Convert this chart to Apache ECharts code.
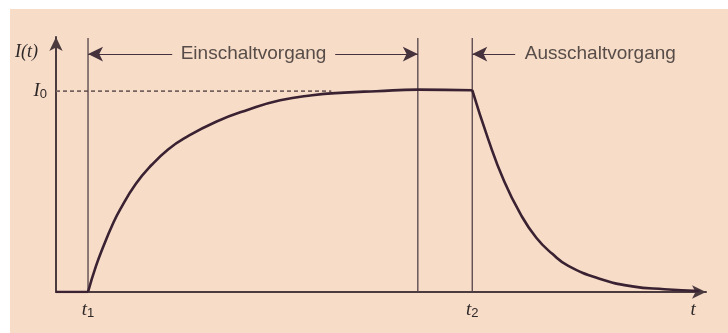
<!DOCTYPE html>
<html>
<head>
<meta charset="utf-8">
<script src="https://cdn.jsdelivr.net/npm/echarts@6/dist/echarts.min.js"></script>
<style>
  html, body { margin: 0; padding: 0; background: #ffffff; }
  #chart { width: 728px; height: 333px; }
</style>
</head>
<body>
<div id="chart"></div>
<script>
// Time in units of the switch-on instant t1 = 1; current in units of I0.
const offT = [0, 1];
const offI = [0, 0];
const riseT = [1, 1.25, 1.5, 1.75, 2, 2.5, 3, 3.5, 4, 5, 6, 7, 8, 9, 10, 11.3, 13];
const riseI = [0, 0.13, 0.235, 0.33, 0.41, 0.54, 0.635, 0.71, 0.765, 0.848, 0.908, 0.955, 0.98, 0.993, 1.0, 1.008, 1.005];
const fallT = [13, 13.5, 14, 14.5, 15, 15.5, 16, 17, 18, 19, 20.1];
const fallI = [1.005, 0.76, 0.55, 0.39, 0.27, 0.19, 0.13, 0.065, 0.028, 0.014, 0.005];

// vertical markers: t1, end of switch-on transient, t2
const markerT = [1, 11.3, 13];
const markerTop = 1.265;

// I0 reference level and where its dashed guide ends
const levelI0 = 1;
const dashEndT = 8.6;

// axis labels
const xTickValues = [1, 13, 19.9];
const xTickLabels = ['{t|t}{s|1}', '{t|t}{s|2}', '{t|t}'];
const yTickValues = [1, 1.195];
const yTickLabels = ['{i|I}{s|0}', '{f|I(t)}'];

// phase annotations
const phaseNames = ['Einschaltvorgang', 'Ausschaltvorgang'];
const phaseCenterT = [6.17, 17.0];
const phaseLevel = 1.185;
// arrow segments [from, to]; arrowhead drawn at "to" when flagged
const phaseArrows = [[3.63, 1], [8.72, 11.3], [14.34, 13], [19.56, 20.72]];
const phaseArrowHead = [true, true, true, false];

const paper = '#f7dcc7';
const ink = '#3a2232';
const axisInk = '#4b3b3f';
const textInk = '#2e2828';

const chart = echarts.init(document.getElementById('chart'), null, { renderer: 'canvas' });

const pairs = (xs, ys) => xs.map((x, k) => [x, ys[k]]);
const pick = (vals, labels, v) => {
  const k = vals.findIndex(u => Math.abs(u - v) < 1e-6);
  return k < 0 ? '' : labels[k];
};

const series = [];

// dashed guide at I0
series.push({
  type: 'line', data: [[0, levelI0], [dashEndT, levelI0]], symbol: 'none', silent: true, z: 1,
  lineStyle: { color: '#76625f', width: 1.8, type: [4, 3] }
});

// vertical marker lines
markerT.forEach(t => series.push({
  type: 'line', data: [[t, 0], [t, markerTop]], symbol: 'none', silent: true, z: 2,
  lineStyle: { color: '#54434a', width: 1.3 }
}));

// current curve
const curveStyle = { color: ink, width: 2.6 };
series.push({ type: 'line', data: pairs(offT, offI), symbol: 'none', z: 5, lineStyle: curveStyle });
series.push({ type: 'line', data: pairs(riseT, riseI), symbol: 'none', smooth: 0.5, z: 5, lineStyle: curveStyle });
series.push({ type: 'line', data: pairs(fallT, fallI), symbol: 'none', smooth: 0.5, z: 5, lineStyle: curveStyle });

// phase names with their arrows
series.push({
  type: 'scatter', z: 6, clip: false, silent: true,
  data: phaseNames.map((n, k) => ({ name: n, value: [phaseCenterT[k], phaseLevel] })),
  symbolSize: 0,
  label: {
    show: true, position: 'inside', formatter: '{b}',
    fontFamily: '"Liberation Sans", Arial, sans-serif', fontSize: 19, color: textInk
  },
  markLine: {
    silent: true, animation: false,
    symbol: ['none', 'arrow'],
    symbolSize: [11, 15],
    label: { show: false },
    emphasis: { disabled: true },
    lineStyle: { color: '#45323c', width: 1, type: 'solid' },
    data: phaseArrows.map((seg, k) => [
      { coord: [seg[0], phaseLevel], symbol: 'none' },
      { coord: [seg[1], phaseLevel], symbol: phaseArrowHead[k] ? 'arrow' : 'none' }
    ])
  }
});

const serifItalic = { fontFamily: '"Liberation Serif", "Times New Roman", serif', fontStyle: 'italic', fontSize: 19, color: textInk };
const subStyle = { fontFamily: '"Liberation Sans", Arial, sans-serif', fontSize: 13, color: textInk, verticalAlign: 'bottom', lineHeight: 14 };

chart.setOption({
  animation: false,
  backgroundColor: paper,
  graphic: [
    { type: 'rect', silent: true, z: -1, shape: { x: 0, y: 0, width: 728, height: 9 }, style: { fill: '#ffffff' } },
    { type: 'rect', silent: true, z: -1, shape: { x: 0, y: 0, width: 10, height: 333 }, style: { fill: '#ffffff' } }
  ],
  grid: { left: 56, right: 22, top: 37, bottom: 41, containLabel: false, outerBoundsMode: 'none' },
  xAxis: {
    type: 'value', min: 0, max: 20.3,
    splitLine: { show: false }, axisTick: { show: false },
    axisLine: { show: true, onZero: false, symbol: ['none', 'arrow'], symbolSize: [10, 14], lineStyle: { color: axisInk, width: 2 } },
    axisLabel: {
      customValues: xTickValues, margin: 8,
      formatter: v => pick(xTickValues, xTickLabels, v),
      rich: { t: Object.assign({ lineHeight: 20 }, serifItalic), s: subStyle }
    }
  },
  yAxis: {
    type: 'value', min: 0, max: 1.27,
    splitLine: { show: false }, axisTick: { show: false },
    axisLine: { show: true, onZero: false, symbol: ['none', 'arrow'], symbolSize: [10, 14], lineStyle: { color: axisInk, width: 2 } },
    axisLabel: {
      customValues: yTickValues, margin: 9,
      formatter: v => pick(yTickValues, yTickLabels, v),
      rich: {
        i: Object.assign({ lineHeight: 20 }, serifItalic),
        f: Object.assign({ lineHeight: 20, padding: [0, 9, 0, 0] }, serifItalic, { fontSize: 18 }),
        s: subStyle
      }
    }
  },
  series: series
});
</script>
</body>
</html>
